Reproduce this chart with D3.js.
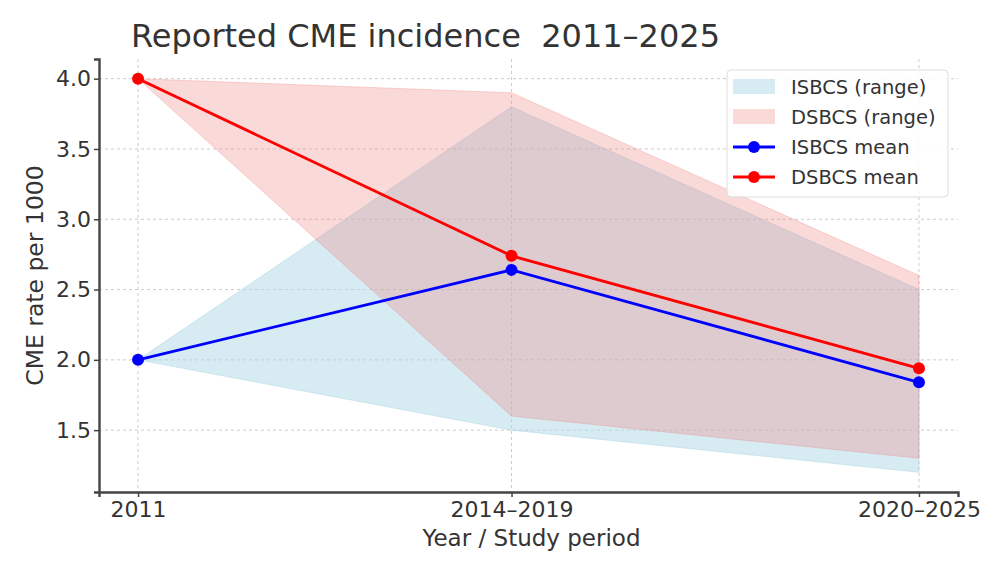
<!DOCTYPE html>
<html>
<head>
<meta charset="utf-8">
<script src="https://cdn.jsdelivr.net/npm/d3@7"></script>
<style>
  body { margin: 0; background: #fff; }
  text { font-family: "DejaVu Sans", sans-serif; fill: #333; }
</style>
</head>
<body>
<div id="chart"></div>
<script>
var width = 986, height = 563;

// periods placed on a year axis (midpoints of the study periods)
var periods = ['2011', '2014\u20132019', '2020\u20132025'];
var periodYear = [2011, 2016.5, 2022.5];

var isbcsMean = [2.0, 2.64, 1.84];
var dsbcsMean = [4.0, 2.74, 1.94];
var isbcsLow = [2.0, 1.5, 1.2];
var isbcsHigh = [2.0, 3.8, 2.5];
var dsbcsLow = [4.0, 1.6, 1.3];
var dsbcsHigh = [4.0, 3.9, 2.6];

var yTicks = [1.5, 2.0, 2.5, 3.0, 3.5, 4.0];

var margin = {left: 99, right: 28, top: 59, bottom: 71};

var svg = d3.select('#chart').append('svg')
            .attr('width', width).attr('height', height);

var x = d3.scaleLinear().domain([2010.425, 2023.075])
          .range([margin.left, width - margin.right]);
var y = d3.scaleLinear().domain([1.06, 4.14])
          .range([height - margin.bottom, margin.top]);

// grid
svg.append('g').selectAll('line').data(yTicks).enter().append('line')
    .attr('x1', margin.left).attr('x2', width - margin.right)
    .attr('y1', function(d){ return y(d); }).attr('y2', function(d){ return y(d); })
    .attr('stroke', '#ccc').attr('stroke-width', 1).attr('stroke-dasharray', '3,3');
svg.append('g').selectAll('line').data(periodYear).enter().append('line')
    .attr('y1', margin.top).attr('y2', height - margin.bottom)
    .attr('x1', function(d){ return x(d); }).attr('x2', function(d){ return x(d); })
    .attr('stroke', '#ccc').attr('stroke-width', 1).attr('stroke-dasharray', '3,3');

// ranges
var band = function(low, high){
  return d3.area()
    .x(function(d, i){ return x(periodYear[i]); })
    .y0(function(d, i){ return y(low[i]); })
    .y1(function(d, i){ return y(high[i]); })(periodYear);
};
svg.append('path').attr('d', band(isbcsLow, isbcsHigh))
    .attr('fill', '#add8e6').attr('fill-opacity', 0.5)
    .attr('stroke', '#add8e6').attr('stroke-opacity', 0.5);
svg.append('path').attr('d', band(dsbcsLow, dsbcsHigh))
    .attr('fill', '#f08080').attr('fill-opacity', 0.3)
    .attr('stroke', '#f08080').attr('stroke-opacity', 0.3);

// mean lines
var line = d3.line()
    .x(function(d, i){ return x(periodYear[i]); })
    .y(function(d){ return y(d); });
[[isbcsMean, '#0000ff'], [dsbcsMean, '#ff0000']].forEach(function(s){
  svg.append('path').attr('d', line(s[0]))
      .attr('fill', 'none').attr('stroke', s[1]).attr('stroke-width', 2.8);
  svg.append('g').selectAll('circle').data(s[0]).enter().append('circle')
      .attr('cx', function(d, i){ return x(periodYear[i]); })
      .attr('cy', function(d){ return y(d); })
      .attr('r', 6).attr('fill', s[1]);
});

// axes
var xAxis = d3.axisBottom(x).tickValues(periodYear)
    .tickFormat(function(d, i){ return periods[i]; })
    .tickSize(5).tickPadding(4);
var yAxis = d3.axisLeft(y).tickValues(yTicks)
    .tickFormat(d3.format('.1f')).tickSize(5).tickPadding(3);

var gx = svg.append('g').attr('transform', 'translate(0,' + (height - margin.bottom) + ')').call(xAxis);
var gy = svg.append('g').attr('transform', 'translate(' + margin.left + ',0)').call(yAxis);
[gx, gy].forEach(function(g){
  g.select('.domain').attr('stroke', '#444').attr('stroke-width', 2.4);
  g.selectAll('.tick line').attr('stroke', '#444').attr('stroke-width', 1.5);
  g.selectAll('.tick text').style('font-size', '22px')
    .style('font-family', '"DejaVu Sans", sans-serif').attr('fill', '#333');
});

svg.append('text').attr('x', (margin.left + width - margin.right) / 2 + 3).attr('y', 546)
    .attr('text-anchor', 'middle').style('font-size', '23px')
    .text('Year / Study period');
svg.append('text')
    .attr('transform', 'translate(43,' + ((margin.top + height - margin.bottom) / 2) + ') rotate(-90)')
    .attr('text-anchor', 'middle').style('font-size', '23.5px')
    .text('CME rate per 1000');
svg.append('text').attr('x', 131).attr('y', 47)
    .style('font-size', '32px').style('white-space', 'pre').attr('fill', '#222')
    .text('Reported CME incidence  2011\u20132025');

// legend
var legend = svg.append('g').attr('transform', 'translate(727,70)');
legend.append('rect').attr('width', 221).attr('height', 127).attr('rx', 4)
    .attr('fill', '#fff').attr('fill-opacity', 0.85).attr('stroke', '#ddd');
var items = [
  {label: 'ISBCS (range)', type: 'area', color: '#add8e6', op: 0.5},
  {label: 'DSBCS (range)', type: 'area', color: '#f08080', op: 0.3},
  {label: 'ISBCS mean', type: 'line', color: '#0000ff'},
  {label: 'DSBCS mean', type: 'line', color: '#ff0000'}
];
var li = legend.selectAll('g.item').data(items).enter().append('g')
    .attr('transform', function(d, i){ return 'translate(0,' + (17 + i * 30) + ')'; });
li.each(function(d){
  var g = d3.select(this);
  if(d.type === 'area'){
    g.append('rect').attr('x', 6).attr('y', -8).attr('width', 42).attr('height', 15)
        .attr('fill', d.color).attr('fill-opacity', d.op);
  } else {
    g.append('line').attr('x1', 6).attr('x2', 48).attr('y1', 0).attr('y2', 0)
        .attr('stroke', d.color).attr('stroke-width', 2.8);
    g.append('circle').attr('cx', 27).attr('cy', 0).attr('r', 6).attr('fill', d.color);
  }
  g.append('text').attr('x', 64).attr('y', 7).style('font-size', '19.5px').text(d.label);
});
</script>
</body>
</html>
